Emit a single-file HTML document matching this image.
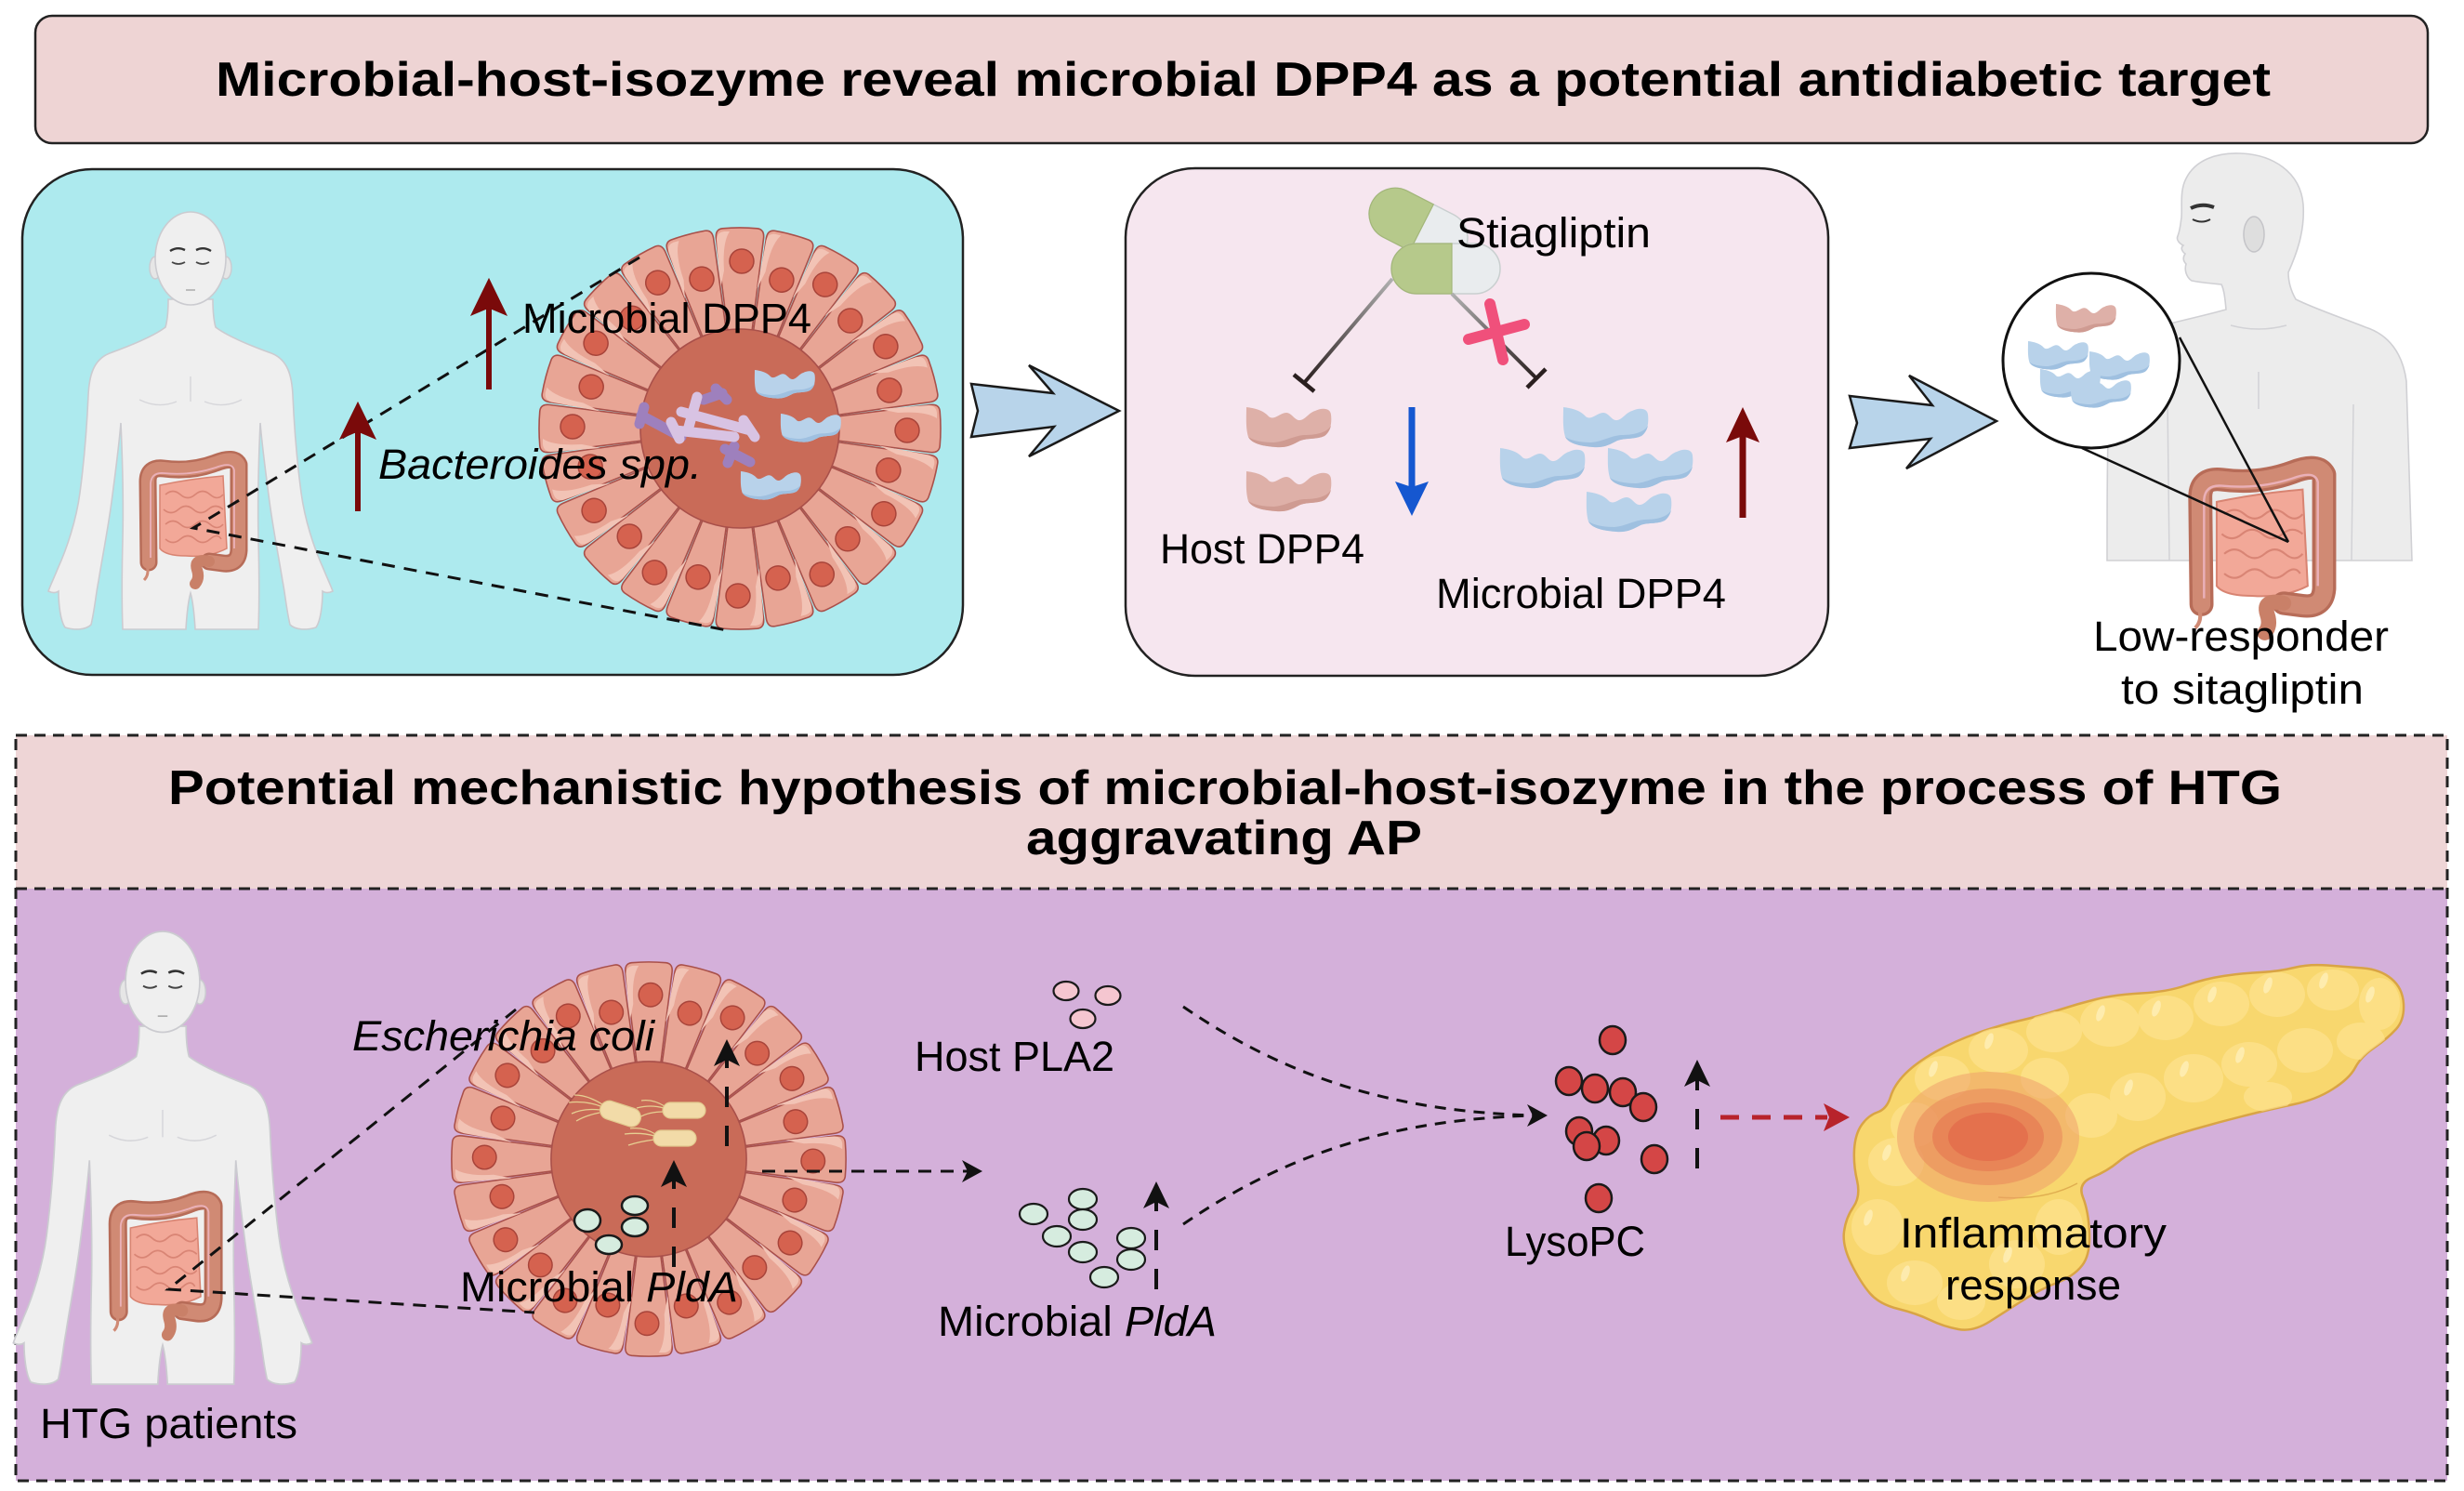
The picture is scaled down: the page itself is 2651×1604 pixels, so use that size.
<!DOCTYPE html>
<html><head><meta charset="utf-8"><style>
html,body{margin:0;padding:0;background:#fff;width:2651px;height:1604px;overflow:hidden}
svg{display:block}
text{font-family:"Liberation Sans",Arial,sans-serif;fill:#000}
</style></head><body>
<svg width="2651" height="1604" viewBox="0 0 2651 1604" xmlns="http://www.w3.org/2000/svg">
<defs>
  <path id="blob" d="M0,0 C8,1 18,3 24,10 C30,15 36,6 43,6 C49,6 52,15 58,14 C64,13 67,6 74,4 C80,1 90,0 91,8 C92,16 91,26 84,31 C76,35 66,33 58,36 C50,40 44,44 32,43 C20,42 6,40 2,32 C-1,22 0,10 0,0 Z"/>
  <path id="blobsh" d="M2,32 C6,40 20,42 32,43 C44,44 50,40 58,36 C66,33 76,35 84,31 C88,28 90,24 91,20 C86,28 74,30 62,30 C50,31 42,37 30,38 C18,38 8,36 2,32 Z"/>
  <g id="pinkblob"><use href="#blob" fill="#deb0a8"/><use href="#blobsh" fill="#cf9b92"/></g>
  <g id="blueblob"><use href="#blob" fill="#b8d2ea"/><use href="#blobsh" fill="#9fc0e0"/></g>

  <path id="cellp" d="M-13.2,-106.2 L-25.5,-204.4 Q-26.7,-214.3 -18.8,-215.2 A216,216 0 0 1 18.8,-215.2 Q26.7,-214.3 25.5,-204.4 L13.2,-106.2 Z"/>
  <g id="cellA"><use href="#cellp" fill="#e8a595" stroke="#a9504a" stroke-width="1.6"/><path d="M-21,-150 L-25,-203 Q-25,-211 -17,-212 L-11,-212 Q-19,-200 -17,-170 Z" fill="#f2c3b5"/><circle cx="2" cy="-180" r="13" fill="#d5624f" stroke="#a8443a" stroke-width="1.5"/></g>
  <g id="cellB"><use href="#cellp" fill="#e8a595" stroke="#a9504a" stroke-width="1.6"/><path d="M-21,-150 L-25,-203 Q-25,-211 -17,-212 L-11,-212 Q-19,-200 -17,-170 Z" fill="#f2c3b5"/><circle cx="2" cy="-166" r="13" fill="#d5624f" stroke="#a8443a" stroke-width="1.5"/></g>
  <g id="org">
    <use href="#cellA" transform="rotate(0)"/><use href="#cellB" transform="rotate(15)"/>
    <use href="#cellA" transform="rotate(30)"/><use href="#cellB" transform="rotate(45)"/>
    <use href="#cellA" transform="rotate(60)"/><use href="#cellB" transform="rotate(75)"/>
    <use href="#cellA" transform="rotate(90)"/><use href="#cellB" transform="rotate(105)"/>
    <use href="#cellA" transform="rotate(120)"/><use href="#cellB" transform="rotate(135)"/>
    <use href="#cellA" transform="rotate(150)"/><use href="#cellB" transform="rotate(165)"/>
    <use href="#cellA" transform="rotate(180)"/><use href="#cellB" transform="rotate(195)"/>
    <use href="#cellA" transform="rotate(210)"/><use href="#cellB" transform="rotate(225)"/>
    <use href="#cellA" transform="rotate(240)"/><use href="#cellB" transform="rotate(255)"/>
    <use href="#cellA" transform="rotate(270)"/><use href="#cellB" transform="rotate(285)"/>
    <use href="#cellA" transform="rotate(300)"/><use href="#cellB" transform="rotate(315)"/>
    <use href="#cellA" transform="rotate(330)"/><use href="#cellB" transform="rotate(345)"/>
    <circle cx="0" cy="0" r="107" fill="#c96b58" stroke="#a9504a" stroke-width="1.6"/>
  </g>

  <g id="gut">
    <path d="M172,522 Q205,515 240,512 L244,590 Q225,600 200,598 Q178,598 172,590 Z" fill="#f2a898" stroke="#d88472" stroke-width="1.5"/>
    <path d="M178,532 q8,-7 16,0 t16,0 t16,0 t14,0 M176,548 q8,7 16,0 t16,0 t16,0 t16,0 M178,564 q8,-7 16,0 t16,0 t16,0 t14,0 M178,580 q8,7 16,0 t16,0 t16,0 t12,0" fill="none" stroke="#d98575" stroke-width="1.6"/>
    <path d="M160,605 L159,518 Q159,502 176,504 Q205,508 232,498 Q252,490 257,500 L257,592 Q256,608 240,606 L225,604" fill="none" stroke="#b76c58" stroke-width="19" stroke-linecap="round" stroke-linejoin="round"/>
    <path d="M160,605 L159,518 Q159,502 176,504 Q205,508 232,498 Q252,490 257,500 L257,592 Q256,608 240,606 L225,604" fill="none" stroke="#d08a74" stroke-width="14" stroke-linecap="round" stroke-linejoin="round"/>
    <path d="M162,600 L162,520 Q163,508 176,509 Q205,512 232,503 Q250,496 252,506 L252,590" fill="none" stroke="#eab0b8" stroke-width="1.8"/>
    <path d="M225,604 Q208,600 212,613 Q215,622 210,628" fill="none" stroke="#c98068" stroke-width="12" stroke-linecap="round"/>
    <path d="M158,608 Q161,618 155,624" fill="none" stroke="#d08a74" stroke-width="3"/>
  </g>

  <g id="human">
    <path d="M181,322 C181,335 180,345 178,352 C165,362 140,372 118,380 C100,387 96,405 95,425 C93,470 90,500 86,530 C82,560 72,590 62,612 C58,622 54,630 52,636 C56,638 60,638 63,636 C63,650 65,668 70,675 C80,678 92,678 98,672 C102,655 103,640 106,625 C110,600 116,570 120,540 C124,510 128,480 130,455 C132,500 133,540 132,580 C131,620 131,650 132,677 L200,677 C201,660 203,645 205,638 C207,645 209,660 210,677 L278,677 C279,650 279,620 278,580 C277,540 278,500 280,455 C282,480 286,510 290,540 C294,570 300,600 304,625 C307,640 308,655 312,672 C318,678 330,678 340,675 C345,668 347,650 347,636 C350,638 354,638 358,636 C356,630 352,622 348,612 C338,590 328,560 324,530 C320,500 317,470 315,425 C314,405 310,387 292,380 C270,372 245,362 232,352 C230,345 229,335 229,322 Z" fill="#efefef" stroke="#cbcbd0" stroke-width="1.6"/>
    <ellipse cx="167" cy="288" rx="6" ry="12" fill="#e6e6e6" stroke="#cbcbd0" stroke-width="1.4"/>
    <ellipse cx="243" cy="288" rx="6" ry="12" fill="#e6e6e6" stroke="#cbcbd0" stroke-width="1.4"/>
    <ellipse cx="205" cy="278" rx="38" ry="50" fill="#efefef" stroke="#cbcbd0" stroke-width="1.6"/>
    <path d="M183,270 Q191,265 199,269 M211,269 Q219,265 227,270" fill="none" stroke="#333" stroke-width="2.4"/>
    <path d="M185,282 Q192,286 199,282 M211,282 Q218,286 225,282" fill="none" stroke="#444" stroke-width="1.8"/>
    <path d="M200,312 L210,312" stroke="#aaa" stroke-width="1.5"/>
    <path d="M205,405 L205,432 M150,430 Q170,440 190,432 M260,430 Q240,440 220,432" fill="none" stroke="#d6d6da" stroke-width="1.4"/>
    <use href="#gut"/>
  </g>

  <path id="panc" d="M2573,1053 Q2585,1063 2586,1080 Q2587,1097 2578,1107 Q2569,1117 2554.5,1127 Q2540,1137 2534,1148.5 Q2528,1160 2510,1171.5 Q2492,1183 2468,1188 Q2444,1193 2416,1200 Q2388,1207 2360,1215 Q2332,1223 2311.5,1231.5 Q2291,1240 2279,1250 Q2267,1260 2251,1266.5 Q2235,1273 2241,1288 Q2247,1303 2248,1326.5 Q2249,1350 2240,1361.5 Q2231,1373 2213,1380 Q2195,1387 2177,1398.5 Q2159,1410 2141,1421.5 Q2123,1433 2107,1430 Q2091,1427 2076.5,1420 Q2062,1413 2042,1408 Q2022,1403 2012,1391.5 Q2002,1380 1992,1360 Q1982,1340 1984,1325 Q1986,1310 1994,1298.5 Q2002,1287 1998,1270 Q1994,1253 1995,1236.5 Q1996,1220 2003,1210 Q2010,1200 2020,1196.5 Q2030,1193 2034,1180 Q2038,1167 2050,1155 Q2062,1143 2082.5,1131.5 Q2103,1120 2127,1111.5 Q2151,1103 2173,1098 Q2195,1093 2215,1086.5 Q2235,1080 2255,1075 Q2275,1070 2303.5,1068.5 Q2332,1067 2352,1060 Q2372,1053 2392,1050 Q2412,1047 2432,1046 Q2452,1045 2468,1041 Q2484,1037 2504,1038.5 Q2524,1040 2542.5,1041.5 Q2561,1043 2573,1053 Z"/>
  <clipPath id="pclip"><use href="#panc"/></clipPath>

  <linearGradient id="inh1" gradientUnits="userSpaceOnUse" x1="1498" y1="300" x2="1403" y2="412"><stop offset="0" stop-color="#b0b0b0"/><stop offset="1" stop-color="#2a1f1f"/></linearGradient>
  <linearGradient id="inh2" gradientUnits="userSpaceOnUse" x1="1562" y1="316" x2="1653" y2="407"><stop offset="0" stop-color="#b0b0b0"/><stop offset="1" stop-color="#2a1f1f"/></linearGradient>
</defs>

<!-- ============ TOP TITLE ============ -->
<rect x="38" y="17" width="2574" height="137" rx="18" fill="#eed4d4" stroke="#222" stroke-width="2.5"/>
<text x="232" y="103" font-size="52" font-weight="bold" textLength="2211" lengthAdjust="spacingAndGlyphs">Microbial-host-isozyme reveal microbial DPP4 as a potential antidiabetic target</text>

<!-- ============ CYAN PANEL ============ -->
<rect x="24" y="182" width="1012" height="544" rx="75" fill="#adeaee" stroke="#222" stroke-width="2.5"/>
<use href="#human"/>
<use href="#org" transform="translate(796,461)"/>
<!-- bacteroides -->
<g stroke-linecap="round" fill="none">
  <path d="M690,447 L733,470 M693,438 L688,456 M757,430 L777,423 M770,418 L782,430 M780,483 L807,497 M783,498 L790,480" stroke="#9e80bd" stroke-width="11"/>
  <path d="M733,443 L807,463 M727,463 L790,470 M750,427 L740,463 M800,452 L812,470 M722,454 L731,472" stroke="#d8c3e3" stroke-width="11"/>
</g>
<use href="#blueblob" transform="translate(812,398) scale(0.71)"/>
<use href="#blueblob" transform="translate(840,445) scale(0.71)"/>
<use href="#blueblob" transform="translate(797,507) scale(0.71)"/>
<!-- dashed zoom lines -->
<path d="M688,277 L208,568 L782,678" fill="none" stroke="#111" stroke-width="3" stroke-dasharray="14 10"/>
<!-- red arrows -->
<g fill="#7a0a0a" stroke="#7a0a0a">
  <line x1="385" y1="550" x2="385" y2="460" stroke-width="6"/>
  <path d="M385,433 L404,472 L385,464 L366,472 Z" stroke-width="1"/>
  <line x1="526" y1="419" x2="526" y2="327" stroke-width="6"/>
  <path d="M526,300 L545,339 L526,331 L507,339 Z" stroke-width="1"/>
</g>
<text x="562" y="358" font-size="45" textLength="311" lengthAdjust="spacingAndGlyphs">Microbial DPP4</text>
<text x="407" y="515" font-size="45" font-style="italic" textLength="348" lengthAdjust="spacingAndGlyphs">Bacteroides spp.</text>

<!-- chevron 1 -->
<path d="M1045,413 L1133,423 L1107,393 L1204,442 L1107,491 L1134,459 L1045,470 L1052,442 Z" fill="#b8d4ea" stroke="#1a1a1a" stroke-width="2.5" stroke-linejoin="miter"/>

<!-- ============ PINK PANEL ============ -->
<rect x="1211" y="181" width="756" height="546" rx="75" fill="#f6e6ef" stroke="#222" stroke-width="2.5"/>
<!-- pills -->
<g transform="translate(1526,243) rotate(27)">
  <rect x="-56" y="-28" width="112" height="56" rx="28" fill="#e9ecee" stroke="#c9cfcf" stroke-width="1.5"/>
  <path d="M4,-28 L-28,-28 A28,28 0 0 0 -28,28 L4,28 Z" fill="#b6c98b" stroke="#a3b679" stroke-width="1.2"/>
</g>
<rect x="1497" y="262" width="117" height="54" rx="27" fill="#e9ecee" stroke="#c9cfcf" stroke-width="1.5"/>
<path d="M1562,262 L1524,262 A27,27 0 0 0 1524,316 L1562,316 Z" fill="#b6c98b" stroke="#a3b679" stroke-width="1.2"/>
<text x="1567" y="266" font-size="45" textLength="209" lengthAdjust="spacingAndGlyphs">Stiagliptin</text>
<!-- inhibition -->
<line x1="1498" y1="300" x2="1403" y2="412" stroke="url(#inh1)" stroke-width="4"/>
<line x1="1392" y1="403" x2="1414" y2="421" stroke="#2a1f1f" stroke-width="4.5"/>
<line x1="1562" y1="316" x2="1653" y2="407" stroke="url(#inh2)" stroke-width="4"/>
<line x1="1643" y1="417" x2="1663" y2="397" stroke="#2a1f1f" stroke-width="4.5"/>
<g stroke="#f0507b" stroke-width="12" stroke-linecap="round">
  <line x1="1603" y1="327" x2="1617" y2="387"/>
  <line x1="1580" y1="365" x2="1640" y2="349"/>
</g>
<!-- host blobs -->
<use href="#pinkblob" transform="translate(1341,438)"/>
<use href="#pinkblob" transform="translate(1341,507)"/>
<!-- microbial blobs -->
<use href="#blueblob" transform="translate(1682,438)"/>
<use href="#blueblob" transform="translate(1614,482)"/>
<use href="#blueblob" transform="translate(1730,482)"/>
<use href="#blueblob" transform="translate(1707,529)"/>
<!-- arrows -->
<line x1="1519" y1="438" x2="1519" y2="526" stroke="#1557d0" stroke-width="7"/>
<path d="M1519,555 L1501,518 L1519,524 L1537,518 Z" fill="#1557d0"/>
<line x1="1875" y1="557" x2="1875" y2="468" stroke="#7a0a0a" stroke-width="7"/>
<path d="M1875,438 L1893,476 L1875,469 L1857,476 Z" fill="#7a0a0a"/>
<text x="1248" y="606" font-size="45" textLength="220" lengthAdjust="spacingAndGlyphs">Host DPP4</text>
<text x="1545" y="654" font-size="45" textLength="312" lengthAdjust="spacingAndGlyphs">Microbial DPP4</text>

<!-- chevron 2 -->
<path d="M1990,426 L2079,436 L2054,404 L2148,453 L2051,504 L2077,472 L1990,482 L1998,455 Z" fill="#b8d4ea" stroke="#1a1a1a" stroke-width="2.5"/>

<!-- ============ RIGHT HUMAN ============ -->
<path d="M2395,333 C2394,322 2393,312 2390,306 C2380,305 2368,304 2358,302 C2352,298 2350,290 2352,284 C2348,280 2349,276 2351,273 C2347,270 2346,266 2349,264 C2345,262 2341,258 2343,254 C2346,246 2346,240 2347,234 C2348,222 2345,205 2352,192 C2362,172 2385,164 2410,165 C2445,166 2475,185 2478,220 C2480,250 2470,275 2462,293 C2462,305 2466,315 2470,322 C2490,332 2520,342 2545,352 C2570,360 2585,380 2589,410 C2591,480 2593,540 2595,603 L2267,603 C2267,540 2267,470 2270,420 C2275,385 2290,365 2320,352 C2345,345 2370,340 2395,333 Z" fill="#ececec" stroke="#d0d0d4" stroke-width="1.6"/>
<ellipse cx="2425" cy="252" rx="11" ry="19" fill="#dedede" stroke="#c4c4c8" stroke-width="1.5"/>
<path d="M2332,430 L2334,603 M2532,435 L2530,603 M2400,350 Q2430,358 2460,350 M2430,400 L2430,440" fill="none" stroke="#d2d2d6" stroke-width="1.5"/>
<path d="M2357,224 Q2369,218 2382,223" fill="none" stroke="#333" stroke-width="4"/>
<path d="M2359,236 Q2369,241 2378,236" fill="none" stroke="#333" stroke-width="2"/>
<use href="#gut" transform="translate(2355,500) scale(1.36,1.33) translate(-150,-492)"/>
<!-- magnifier -->
<line x1="2345" y1="363" x2="2462" y2="583" stroke="#111" stroke-width="2.5"/>
<line x1="2240" y1="482" x2="2462" y2="583" stroke="#111" stroke-width="2.5"/>
<ellipse cx="2250" cy="388" rx="95" ry="94" fill="#fff" stroke="#111" stroke-width="3"/>
<use href="#pinkblob" transform="translate(2212,327) scale(0.71)"/>
<use href="#blueblob" transform="translate(2182,367) scale(0.71)"/>
<use href="#blueblob" transform="translate(2248,378) scale(0.71)"/>
<use href="#blueblob" transform="translate(2195,397) scale(0.71)"/>
<use href="#blueblob" transform="translate(2228,408) scale(0.71)"/>
<text x="2252" y="700" font-size="45" textLength="318" lengthAdjust="spacingAndGlyphs">Low-responder</text>
<text x="2282" y="757" font-size="45" textLength="261" lengthAdjust="spacingAndGlyphs">to sitagliptin</text>

<!-- ============ BOTTOM SECTION ============ -->
<rect x="17" y="791" width="2616" height="802" fill="#d4b0da"/>
<rect x="17" y="791" width="2616" height="165" fill="#eed5d6"/>
<line x1="17" y1="956" x2="2633" y2="956" stroke="#222" stroke-width="3" stroke-dasharray="12 8"/>
<rect x="17" y="791" width="2616" height="802" fill="none" stroke="#222" stroke-width="3" stroke-dasharray="12 8"/>
<text x="181" y="865" font-size="52" font-weight="bold" textLength="2274" lengthAdjust="spacingAndGlyphs">Potential mechanistic hypothesis of microbial-host-isozyme in the process of HTG</text>
<text x="1104" y="919" font-size="52" font-weight="bold" textLength="426" lengthAdjust="spacingAndGlyphs">aggravating AP</text>

<!-- bottom human -->
<use href="#human" transform="translate(175,1002) scale(1.05,1.085) translate(-205,-228)"/>
<text x="43" y="1547" font-size="45" textLength="277" lengthAdjust="spacingAndGlyphs">HTG patients</text>

<!-- bottom organoid -->
<use href="#org" transform="translate(698,1247) scale(0.982)"/>
<!-- e coli -->
<g stroke="#e6cf92" stroke-width="1.3" fill="none">
  <path d="M646,1190 Q630,1184 612,1186 M646,1194 Q628,1192 615,1198 M648,1188 Q632,1178 618,1178 M645,1197 Q630,1200 620,1206"/>
  <path d="M714,1192 Q700,1188 685,1192 M714,1196 Q698,1196 688,1202 M715,1190 Q702,1182 690,1184"/>
  <path d="M704,1222 Q690,1218 672,1220 M704,1226 Q688,1228 676,1232 M705,1220 Q692,1212 678,1214"/>
</g>
<rect x="645" y="1188" width="45" height="20" rx="10" fill="#f2dba8" stroke="#e2c98e" stroke-width="1.2" transform="rotate(18 667 1198)"/>
<rect x="713" y="1186" width="46" height="17" rx="8.5" fill="#f2dba8" stroke="#e2c98e" stroke-width="1.2"/>
<rect x="703" y="1216" width="46" height="17" rx="8.5" fill="#f2dba8" stroke="#e2c98e" stroke-width="1.2"/>
<g fill="#d6ecdf" stroke="#1a1a1a" stroke-width="2.5">
  <ellipse cx="632" cy="1313" rx="14" ry="12"/>
  <ellipse cx="683" cy="1297" rx="14" ry="10"/>
  <ellipse cx="683" cy="1320" rx="14" ry="10"/>
  <ellipse cx="655" cy="1339" rx="14" ry="10"/>
</g>
<!-- dashed arrows in organoid -->
<g stroke="#111" stroke-width="4" fill="none" stroke-dasharray="22 20">
  <line x1="725" y1="1363" x2="725" y2="1268"/>
  <line x1="782" y1="1233" x2="782" y2="1138"/>
  <line x1="1244" y1="1387" x2="1244" y2="1291"/>
  <line x1="1826" y1="1257" x2="1826" y2="1160"/>
</g>
<g fill="#111">
  <path d="M725,1248 L739,1277 L725,1270 L711,1277 Z"/>
  <path d="M782,1118 L796,1147 L782,1140 L768,1147 Z"/>
  <path d="M1244,1271 L1258,1300 L1244,1293 L1230,1300 Z"/>
  <path d="M1826,1140 L1840,1169 L1826,1162 L1812,1169 Z"/>
</g>
<!-- dashed zoom lines bottom -->
<path d="M555,1086 L181,1387 L575,1412" fill="none" stroke="#111" stroke-width="3" stroke-dasharray="14 10"/>
<text x="379" y="1130" font-size="45" font-style="italic" textLength="325" lengthAdjust="spacingAndGlyphs">Escherichia coli</text>
<text x="495" y="1400" font-size="45" textLength="299" lengthAdjust="spacingAndGlyphs">Microbial <tspan font-style="italic">PldA</tspan></text>

<!-- horizontal dashed arrow -->
<line x1="820" y1="1260" x2="1042" y2="1260" stroke="#111" stroke-width="3" stroke-dasharray="14 10"/>
<path d="M1057,1260 L1035,1248 L1041,1260 L1035,1272 Z" fill="#111"/>

<!-- host PLA2 -->
<g fill="#f5c6d0" stroke="#1a1a1a" stroke-width="2.2">
  <ellipse cx="1147" cy="1066" rx="13.5" ry="10"/>
  <ellipse cx="1192" cy="1071" rx="13.5" ry="10"/>
  <ellipse cx="1165" cy="1096" rx="13.5" ry="10"/>
</g>
<text x="984" y="1152" font-size="45" textLength="215" lengthAdjust="spacingAndGlyphs">Host PLA2</text>

<!-- microbial PldA middle -->
<g fill="#d6ecdf" stroke="#1a1a1a" stroke-width="2.2">
  <ellipse cx="1112" cy="1306" rx="15" ry="11"/>
  <ellipse cx="1165" cy="1290" rx="15" ry="11"/>
  <ellipse cx="1165" cy="1312" rx="15" ry="11"/>
  <ellipse cx="1137" cy="1330" rx="15" ry="11"/>
  <ellipse cx="1165" cy="1347" rx="15" ry="11"/>
  <ellipse cx="1217" cy="1332" rx="15" ry="11"/>
  <ellipse cx="1217" cy="1355" rx="15" ry="11"/>
  <ellipse cx="1188" cy="1374" rx="15" ry="11"/>
</g>
<text x="1009" y="1437" font-size="45" textLength="300" lengthAdjust="spacingAndGlyphs">Microbial <tspan font-style="italic">PldA</tspan></text>

<!-- converging curves -->
<path d="M1273,1083 C1400,1170 1520,1196 1650,1200" fill="none" stroke="#111" stroke-width="3" stroke-dasharray="12 9"/>
<path d="M1273,1317 C1400,1230 1520,1204 1650,1200" fill="none" stroke="#111" stroke-width="3" stroke-dasharray="12 9"/>
<path d="M1665,1200 L1643,1188 L1649,1200 L1643,1212 Z" fill="#111"/>

<!-- LysoPC -->
<g fill="#d44646" stroke="#1a1a1a" stroke-width="2.5">
  <ellipse cx="1735" cy="1119" rx="14" ry="15"/>
  <ellipse cx="1688" cy="1163" rx="14" ry="15"/>
  <ellipse cx="1716" cy="1171" rx="14" ry="15"/>
  <ellipse cx="1746" cy="1175" rx="14" ry="15"/>
  <ellipse cx="1768" cy="1191" rx="14" ry="15"/>
  <ellipse cx="1699" cy="1217" rx="14" ry="15"/>
  <ellipse cx="1728" cy="1227" rx="14" ry="15"/>
  <ellipse cx="1707" cy="1233" rx="14" ry="15"/>
  <ellipse cx="1780" cy="1247" rx="14" ry="15"/>
  <ellipse cx="1720" cy="1289" rx="14" ry="15"/>
</g>
<text x="1619" y="1351" font-size="45" textLength="151" lengthAdjust="spacingAndGlyphs">LysoPC</text>

<!-- red dashed arrow -->
<line x1="1851" y1="1202" x2="1966" y2="1202" stroke="#b8232b" stroke-width="5" stroke-dasharray="20 14"/>
<path d="M1990,1202 L1962,1187 L1968,1202 L1962,1217 Z" fill="#b8232b"/>

<!-- pancreas -->
<use href="#panc" fill="#f8d76e" stroke="#d9a445" stroke-width="2.5"/>
<g clip-path="url(#pclip)">
  <g fill="#fde493" opacity="0.65">
    <ellipse cx="2040" cy="1250" rx="30" ry="26"/><ellipse cx="2020" cy="1320" rx="28" ry="30"/>
    <ellipse cx="2060" cy="1380" rx="30" ry="24"/><ellipse cx="2110" cy="1400" rx="26" ry="20"/>
    <ellipse cx="2170" cy="1360" rx="30" ry="26"/><ellipse cx="2215" cy="1320" rx="26" ry="30"/>
    <ellipse cx="2090" cy="1160" rx="30" ry="24"/><ellipse cx="2150" cy="1130" rx="32" ry="24"/>
    <ellipse cx="2210" cy="1110" rx="30" ry="22"/><ellipse cx="2270" cy="1100" rx="32" ry="26"/>
    <ellipse cx="2330" cy="1095" rx="30" ry="24"/><ellipse cx="2390" cy="1080" rx="30" ry="24"/>
    <ellipse cx="2450" cy="1070" rx="30" ry="24"/><ellipse cx="2510" cy="1065" rx="28" ry="22"/>
    <ellipse cx="2560" cy="1080" rx="22" ry="28"/><ellipse cx="2540" cy="1120" rx="26" ry="20"/>
    <ellipse cx="2480" cy="1130" rx="30" ry="24"/><ellipse cx="2420" cy="1145" rx="30" ry="24"/>
    <ellipse cx="2360" cy="1160" rx="32" ry="26"/><ellipse cx="2300" cy="1180" rx="30" ry="26"/>
    <ellipse cx="2250" cy="1200" rx="28" ry="24"/><ellipse cx="2440" cy="1180" rx="26" ry="16"/>
    <ellipse cx="2060" cy="1210" rx="26" ry="24"/><ellipse cx="2200" cy="1160" rx="26" ry="22"/>
  </g>
  <g fill="#fff6cf" opacity="0.55">
    <ellipse cx="2030" cy="1240" rx="4" ry="9" transform="rotate(20 2030 1240)"/>
    <ellipse cx="2010" cy="1310" rx="4" ry="9" transform="rotate(20 2010 1310)"/>
    <ellipse cx="2050" cy="1370" rx="4" ry="9" transform="rotate(20 2050 1370)"/>
    <ellipse cx="2080" cy="1150" rx="4" ry="9" transform="rotate(20 2080 1150)"/>
    <ellipse cx="2140" cy="1120" rx="4" ry="9" transform="rotate(20 2140 1120)"/>
    <ellipse cx="2260" cy="1090" rx="4" ry="9" transform="rotate(20 2260 1090)"/>
    <ellipse cx="2320" cy="1085" rx="4" ry="9" transform="rotate(20 2320 1085)"/>
    <ellipse cx="2380" cy="1070" rx="4" ry="9" transform="rotate(20 2380 1070)"/>
    <ellipse cx="2440" cy="1060" rx="4" ry="9" transform="rotate(20 2440 1060)"/>
    <ellipse cx="2500" cy="1055" rx="4" ry="9" transform="rotate(20 2500 1055)"/>
    <ellipse cx="2550" cy="1070" rx="4" ry="9" transform="rotate(20 2550 1070)"/>
    <ellipse cx="2350" cy="1150" rx="4" ry="9" transform="rotate(20 2350 1150)"/>
    <ellipse cx="2410" cy="1135" rx="4" ry="9" transform="rotate(20 2410 1135)"/>
    <ellipse cx="2290" cy="1170" rx="4" ry="9" transform="rotate(20 2290 1170)"/>
    <ellipse cx="2160" cy="1350" rx="4" ry="9" transform="rotate(20 2160 1350)"/>
  </g>
</g>
<path d="M2235,1273 Q2200,1292 2150,1288" fill="none" stroke="#e0ae50" stroke-width="1.5"/>
<!-- inflammation -->
<ellipse cx="2139" cy="1223" rx="98" ry="70" fill="#ee9c6a" opacity="0.5"/>
<ellipse cx="2139" cy="1223" rx="80" ry="52" fill="#e98a5c" opacity="0.6"/>
<ellipse cx="2139" cy="1223" rx="60" ry="37" fill="#e57a52" opacity="0.7"/>
<ellipse cx="2139" cy="1223" rx="43" ry="26" fill="#e26c4b" opacity="0.8"/>
<text x="2044" y="1342" font-size="45" textLength="287" lengthAdjust="spacingAndGlyphs">Inflammatory</text>
<text x="2093" y="1398" font-size="45" textLength="189" lengthAdjust="spacingAndGlyphs">response</text>
</svg>
</body></html>
